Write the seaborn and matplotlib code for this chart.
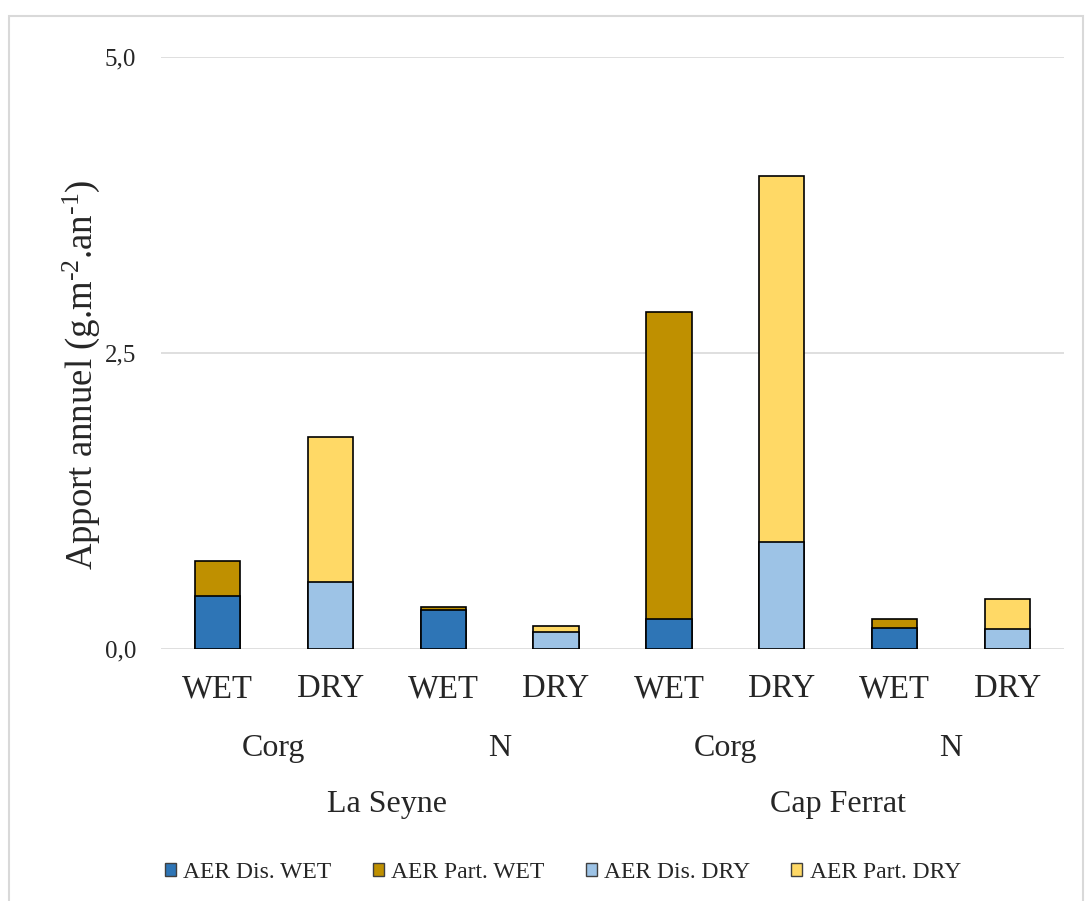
import matplotlib
matplotlib.use("Agg")
import matplotlib.pyplot as plt
import seaborn as sns
import pandas as pd
from matplotlib.patches import Rectangle, Patch
from matplotlib.transforms import blended_transform_factory

# ---- data ----
seasons = ["WET", "DRY", "WET", "DRY", "WET", "DRY", "WET", "DRY"]
elements = ["Corg", "N", "Corg", "N"]
sites = ["La Seyne", "Cap Ferrat"]
dissolved = [0.45, 0.57, 0.33, 0.145, 0.255, 0.905, 0.175, 0.165]
particulate = [0.29, 1.22, 0.025, 0.045, 2.59, 3.09, 0.075, 0.255]
series_names = ["AER Dis. WET", "AER Part. WET", "AER Dis. DRY", "AER Part. DRY"]
yticks = [0.0, 2.5, 5.0]
ytick_labels = ["0,0", "2,5", "5,0"]

c_dis_wet, c_part_wet, c_dis_dry, c_part_dry = "#2E75B6", "#BF9000", "#9DC3E6", "#FFD966"

sns.set_theme(style="white")
plt.rcParams["font.family"] = ["Liberation Serif", "DejaVu Serif"]
plt.rcParams["mathtext.fontset"] = "custom"
plt.rcParams["mathtext.rm"] = "Liberation Serif"
plt.rcParams["mathtext.it"] = "Liberation Serif:italic"

df = pd.DataFrame({
    "pos": [str(i) for i in range(8)],
    "dis": dissolved,
    "part": particulate,
    "season": seasons,
})
df["total"] = df["dis"] + df["part"]
part_colors = [c_part_wet if s == "WET" else c_part_dry for s in seasons]
dis_colors = [c_dis_wet if s == "WET" else c_dis_dry for s in seasons]

fig = plt.figure(figsize=(10.91, 9.01), dpi=100)
ax = fig.add_axes([161 / 1091, 0.2797, (1064 - 161) / 1091, 0.657])

sns.barplot(data=df, x="pos", y="total", hue="pos", palette=part_colors, saturation=1,
            width=0.40, edgecolor="black", linewidth=1.2, legend=False, ax=ax, zorder=3)
sns.barplot(data=df, x="pos", y="dis", hue="pos", palette=dis_colors, saturation=1,
            width=0.40, edgecolor="black", linewidth=1.2, legend=False, ax=ax, zorder=4)

ax.set_ylim(0, 5.0)
ax.set_xlim(-0.5, 7.5)
ax.set_yticks(yticks)
ax.set_yticklabels(ytick_labels, fontsize=18)
ax.set_xticks(range(8))
ax.set_xticklabels(seasons, fontsize=23.5)
ax.tick_params(axis="x", length=0, pad=18)
ax.tick_params(axis="y", length=0, pad=18)
ax.set_xlabel("")
ax.set_ylabel(r"Apport annuel (g.m$^{\text{-2}}$.an$^{\text{-1}}$)", fontsize=26.5)
ax.yaxis.set_label_coords(-0.065, 0.463)
ax.yaxis.grid(True, color="#d9d9d9", linewidth=1.2, zorder=0)
for s in ax.spines.values():
    s.set_visible(False)

trans = blended_transform_factory(ax.transData, ax.transAxes)
for i, el in enumerate(elements):
    ax.text(2 * i + 0.5, -0.168, el, transform=trans, ha="center", va="center", fontsize=23)
for i, st in enumerate(sites):
    ax.text(4 * i + 1.5, -0.262, st, transform=trans, ha="center", va="center", fontsize=23)

handles = [Patch(facecolor=c, edgecolor="#404040", linewidth=1.0) for c in
           [c_dis_wet, c_part_wet, c_dis_dry, c_part_dry]]
fig.legend(handles, series_names, loc="center", bbox_to_anchor=(0.516, 0.032), ncol=4,
           frameon=False, fontsize=17, handlelength=0.47, handleheight=0.47,
           handletextpad=0.3, columnspacing=1.75)

fig.patches.append(Rectangle((9 / 1091, -0.01), (1083 - 9) / 1091, 1 - 16 / 901 + 0.01,
                             transform=fig.transFigure, fill=False, edgecolor="#d9d9d9",
                             linewidth=1.5))

fig.savefig("out.png", dpi=100, facecolor="white")
